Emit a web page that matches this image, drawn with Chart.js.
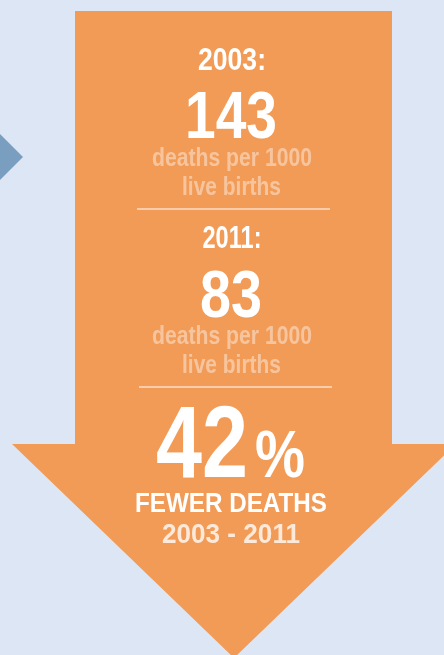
<!DOCTYPE html>
<html>
<head>
<meta charset="utf-8">
<script src="https://cdn.jsdelivr.net/npm/chart.js@4.4.1/dist/chart.umd.min.js"></script>
<style>
  html, body { margin: 0; padding: 0; background: #dde6f4; }
  #wrap { width: 444px; height: 655px; }
</style>
</head>
<body>
<div id="wrap"><canvas id="infant_deaths"></canvas></div>
<script>
// Infant deaths, per 1000 live births
var years = ["2003", "2011"];
var rates = [143, 83];
var unitLines = ["deaths per 1000", "live births"];
var summaryLines = ["FEWER DEATHS", "2003 - 2011"];

var FONT = '"Liberation Sans", Arial, sans-serif';

// condensed look: draw bold text squeezed to a given width
function fitText(ctx, text, cx, y, size, width) {
    ctx.font = "bold " + size + "px " + FONT;
    var w = ctx.measureText(text).width;
    var sx = width / w;
    ctx.save();
    ctx.translate(cx - width / 2, y);
    ctx.scale(sx, 1);
    ctx.textAlign = "left";
    ctx.fillText(text, 0, 0);
    ctx.restore();
}

// draws the orange arrow with the figures inside it
var arrowPlugin = {
    id: "arrow",
    beforeDraw: function(chart) {
        var ctx = chart.ctx;
        ctx.save();
        ctx.fillStyle = "#dde6f4";
        ctx.fillRect(0, 0, chart.width, chart.height);

        // blue pointer on the left
        ctx.fillStyle = "#7a9ec0";
        ctx.beginPath();
        ctx.moveTo(-1, 133);
        ctx.lineTo(23, 157);
        ctx.lineTo(-1, 181);
        ctx.closePath();
        ctx.fill();

        // arrow
        ctx.fillStyle = "#f29b57";
        ctx.beginPath();
        ctx.moveTo(75, 11);
        ctx.lineTo(392, 11);
        ctx.lineTo(392, 444);
        ctx.lineTo(456, 444);
        ctx.lineTo(234, 658);
        ctx.lineTo(12, 444);
        ctx.lineTo(75, 444);
        ctx.closePath();
        ctx.fill();
        ctx.restore();
    },
    afterDraw: function(chart) {
        var ctx = chart.ctx;
        var vals = chart.data.datasets[0].data;
        var labels = chart.data.labels;
        var blocks = [
            { top: 70, yw: 68, num: 138, nw: 92, l1: 166, l2: 195, rule: 209, rx: [137, 330] },
            { top: 248, yw: 59, num: 317, nw: 62, l1: 344, l2: 373, rule: 387, rx: [139, 332] }
        ];
        ctx.save();
        ctx.textBaseline = "alphabetic";
        blocks.forEach(function(b, i) {
            ctx.fillStyle = "#ffffff";
            fitText(ctx, labels[i] + ":", 232, b.top, 32, b.yw);
            fitText(ctx, String(vals[i]), 231, b.num, 67, b.nw);
            ctx.fillStyle = "rgba(255,255,255,0.42)";
            fitText(ctx, unitLines[0], 232, b.l1, 25, 160);
            fitText(ctx, unitLines[1], 231.5, b.l2, 25, 99);
            ctx.strokeStyle = "#ffffff";
            ctx.lineWidth = 1.2;
            ctx.beginPath();
            ctx.moveTo(b.rx[0], b.rule);
            ctx.lineTo(b.rx[1], b.rule);
            ctx.stroke();
        });

        // percentage drop
        var pct = Math.round((vals[0] - vals[1]) / vals[0] * 100);
        ctx.fillStyle = "#ffffff";
        fitText(ctx, String(pct), 202, 477, 102, 92);
        fitText(ctx, "%", 280, 477, 67, 50);

        fitText(ctx, summaryLines[0], 231, 512, 28, 192);
        ctx.fillStyle = "rgba(255,255,255,0.78)";
        fitText(ctx, summaryLines[1], 231, 543, 28, 138);
        ctx.restore();
    }
};

new Chart(document.getElementById("infant_deaths"), {
    type: "bar",
    data: {
        labels: years,
        datasets: [
            {
                label: "Deaths per 1000 live births",
                data: rates,
                backgroundColor: "rgba(0,0,0,0)",
                borderWidth: 0
            }
        ]
    },
    options: {
        responsive: true,
        maintainAspectRatio: false,
        animation: false,
        layout: { padding: 0 },
        plugins: {
            legend: { display: false },
            tooltip: { enabled: false }
        },
        scales: {
            x: { display: false },
            y: { display: false, beginAtZero: true }
        }
    },
    plugins: [arrowPlugin]
});
</script>
</body>
</html>
